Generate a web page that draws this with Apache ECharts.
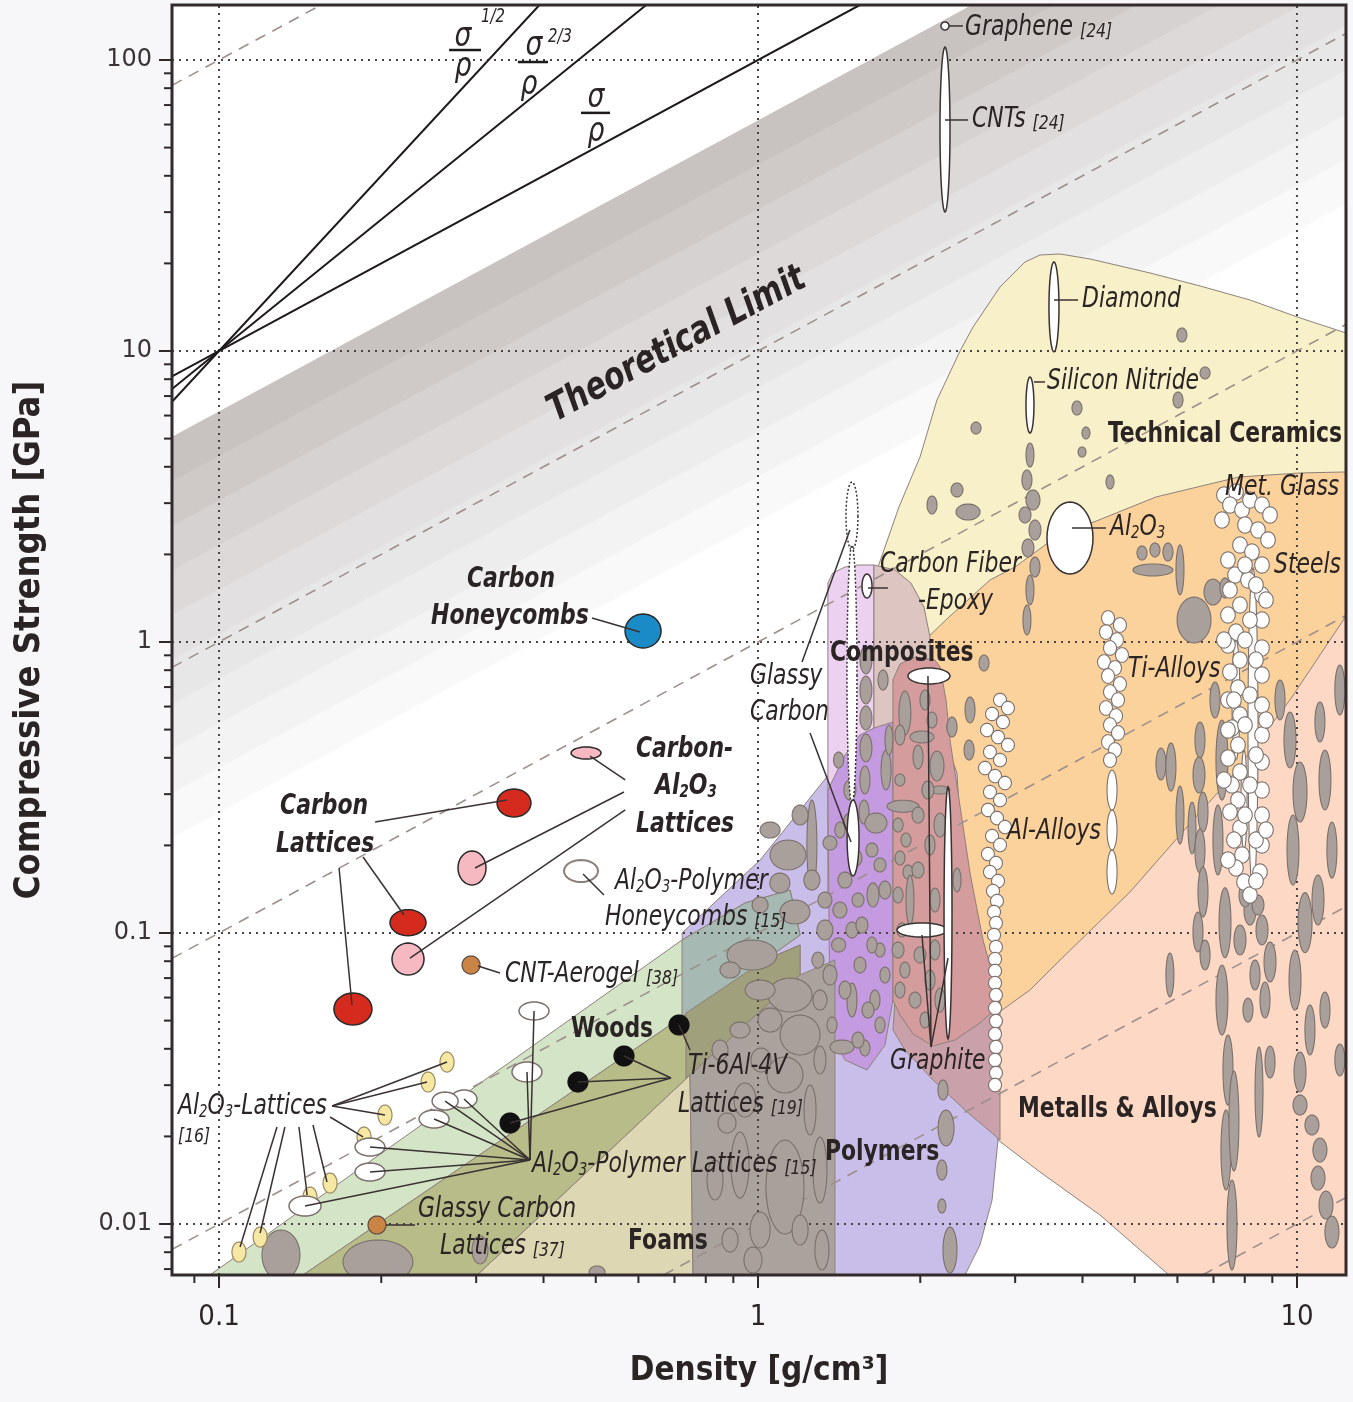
<!DOCTYPE html>
<html>
<head>
<meta charset="utf-8">
<title>Compressive strength vs density</title>
<script src="https://cdn.jsdelivr.net/npm/echarts@6.0.0/dist/echarts.min.js"></script>
<style>
  html, body { margin: 0; padding: 0; background: #f7f7fa; }
  #chart { width: 1353px; height: 1402px; }
</style>
</head>
<body>
<div id="chart"></div>
<script>
// axis ranges: density [g/cm3], compressive strength [GPa]
const densityRange = [0.0818, 12.33];
const strengthRange = [0.00668, 154.5];
const xTicks = [0.1, 1, 10];
const xTickLabels = ['0.1', '1', '10'];
const yTicks = [0.01, 0.1, 1, 10, 100];
const yTickLabels = ['0.01', '0.1', '1', '10', '100'];
const xMinorTicks = [0.09, 0.2, 0.3, 0.4, 0.5, 0.6, 0.7, 0.8, 0.9, 2, 3, 4, 5, 6, 7, 8, 9];
const yMinorTicks = [0.007, 0.008, 0.009, 0.02, 0.03, 0.04, 0.05, 0.06, 0.07, 0.08, 0.09,
  0.2, 0.3, 0.4, 0.5, 0.6, 0.7, 0.8, 0.9, 2, 3, 4, 5, 6, 7, 8, 9, 20, 30, 40, 50, 60, 70, 80, 90];

// theoretical limit band, upper / lower edge as sigma/rho
const theoryBand = [62, 2.6];
// dashed guide lines of constant sigma/rho
const ratioGuides = [1000, 10, 1, 0.1, 0.01, 0.001];
// solid index lines through (0.1, 10): sigma/rho, sigma^(2/3)/rho, sigma^(1/2)/rho
const indexAnchor = [0.1, 10];
const indexSlopes = [1, 1.5, 2];

// material envelopes [density, strength]
const ceramics = [[1.641,0.393],[1.641,1.016],[1.670,1.810],[1.826,2.910],[1.998,4.322],[2.148,6.785],[2.371,10],[2.506,12.09],[2.812,16.59],[3.129,20.22],[3.336,21.37],[3.634,21.54],[4.130,20.71],[5.337,18.54],[6.607,16.73],[8.181,14.97],[10.13,12.99],[12.33,11.53],[12.33,0.393]];
const metalsPeach = [[2.788,0.01944],[3.336,0.01509],[4.310,0.01074],[5.787,0.00668],[12.33,0.00668],[12.33,1.913],[2.788,0.632]];
const metalsOrange = [[2.041,0.6321],[2.041,1.016],[2.262,1.219],[2.694,1.633],[2.998,1.810],[3.512,2.242],[4.201,2.585],[5.475,3.150],[7.805,3.690],[10.13,3.809],[12.33,3.839],[12.33,1.228],[9.705,0.6321],[7.477,0.3356],[6.066,0.2172],[4.899,0.1383],[3.634,0.0807],[3.196,0.0637],[2.788,0.0531],[2.223,0.0531]];
const polymers = [[0.7228,0.1],[1.009,0.1781],[1.342,0.3436],[1.546,0.4791],[1.780,0.5311],[1.940,0.5395],[2.176,0.5145],[2.340,0.3547],[2.400,0.1608],[2.453,0.0807],[2.527,0.05884],[2.788,0.01944],[2.718,0.01209],[2.581,0.008468],[2.421,0.00668],[0.7478,0.00668],[0.7351,0.05884]];
const fiberComposites = [[1.348,0.1298],[1.348,1.595],[1.377,1.726],[1.450,1.810],[1.533,1.839],[1.641,1.839],[1.641,0.1298]];
const fiberOnCeramics = [[1.641,1.839],[1.796,1.768],[1.922,1.595],[2.032,1.319],[2.085,1.040],[2.085,0.4605],[1.641,0.4605]];
const polymersOnFiber = [[1.348,0.3100],[1.450,0.4090],[1.546,0.4791],[1.641,0.5063],[1.780,0.5311],[1.780,0.05884],[1.720,0.04121],[1.593,0.03382],[1.450,0.03661],[1.360,0.04642]];
const woods = [[0.0950,0.006573],[0.7228,0.09461],[0.946,0.1268],[1.147,0.1405],[1.197,0.09843],[1.030,0.0807],[0.7228,0.05143],[0.1413,0.006573]];
const foams = [[0.2985,0.006573],[0.7478,0.03251],[0.7576,0.006573]];
const woodsOnFoams = [[0.1413,0.006573],[0.7228,0.05143],[1.030,0.0807],[1.197,0.09095],[1.197,0.07173],[0.7478,0.03251],[0.2985,0.006573]];
const woodsOnPolymers = [[0.7228,0.09461],[0.946,0.1268],[1.147,0.1405],[1.197,0.09843],[1.030,0.0807],[0.7228,0.05143]];
const woodsFoamsPolymers = [[0.7351,0.0531],[1.030,0.0807],[1.197,0.09095],[1.197,0.07173],[0.7478,0.03251],[0.7351,0.03175]];
const foamsOnPolymers = [[0.7478,0.03251],[1.197,0.07173],[1.389,0.0807],[1.389,0.006573],[0.7576,0.006573]];
const polymersOnMetals = [[1.796,0.05884],[2.812,0.06368],[2.812,0.01944],[2.421,0.02464],[2.112,0.03125],[1.873,0.03962],[1.780,0.04642]];
const graphiteZone = [[1.780,0.05884],[1.780,0.7403],[1.834,0.8402],[1.956,0.8882],[2.130,0.8672],[2.176,0.8205],[2.233,0.6321],[2.271,0.4605],[2.371,0.2727],[2.474,0.1608],[2.615,0.09461],[2.776,0.06368],[2.812,0.05656],[2.581,0.04906],[2.320,0.04288],[2.112,0.04089],[1.940,0.04496],[1.834,0.05226]];

// bubbles: [density, strength, half-range of density (decades), half-range of strength (decades)]
const grayBubbles = [
  [6.116,11.35,.0093,.0241],[6.752,8.404,.0093,.0206],[6.016,6.785,.0093,.0275],[3.907,6.370,.0093,.0241],
  [2.538,5.437,.0093,.0206],[4.060,5.226,.0074,.0206],[3.992,4.497,.0074,.0172],[2.340,3.330,.0111,.0241],
  [2.103,2.957,.0093,.0309],[2.453,2.797,.0223,.0275],[4.499,3.546,.0074,.0241],[3.196,4.390,.0074,.0412],
  [3.155,3.604,.0093,.0344],[3.237,3.076,.0130,.0344],[3.129,2.732,.0111,.0275],[3.265,2.426,.0111,.0344],
  [3.169,2.104,.0111,.0309],[3.265,1.810,.0093,.0344],[3.196,1.509,.0074,.0515],[3.155,1.190,.0074,.0515],
  [5.405,1.768,.0371,.0206],[5.158,2.022,.0093,.0241],[5.452,2.072,.0093,.0241],[5.763,2.038,.0093,.0309],
  [6.066,1.768,.0074,.0859],[6.442,1.190,.0315,.0790],[6.985,1.485,.0167,.0447],[7.353,1.533,.0093,.0344],
  [2.474,0.5839,.0093,.0447],[2.280,0.5104,.0074,.0241],[2.626,0.8470,.0093,.0275],[2.464,0.4255,.0093,.0344],
  [1.586,0.8672,.0111,.0481],[1.586,0.6839,.0111,.0481],[1.586,0.5482,.0111,.0412],[1.586,0.4323,.0111,.0481],
  [1.579,0.3356,.0093,.0481],[1.573,0.2604,.0093,.0412],[1.873,0.5703,.0111,.0756],[2.015,0.4716,.0223,.0206],
  [1.981,0.4025,.0093,.0412],[2.148,0.3749,.0130,.0515],[2.176,0.3100,.0186,.0137],[1.858,0.2727,.0297,.0206],
  [1.834,0.3356,.0093,.0206],[1.819,0.2350,.0093,.0241],[1.882,0.2088,.0093,.0241],[1.834,0.1810,.0093,.0241],
  [1.898,0.1620,.0093,.0241],[1.914,0.1298,.0074,.0859],[1.819,0.1351,.0093,.0275],[1.850,0.1024,.0093,.0241],
  [1.819,0.08741,.0111,.0275],[1.873,0.07463,.0093,.0275],[1.834,0.06368,.0093,.0275],[1.137,0.1854,.0334,.0515],
  [1.259,0.2006,.0093,.1546],[1.360,0.2039,.0130,.0241],[1.655,0.2388,.0204,.0344],[1.627,0.1928,.0111,.0241],
  [1.684,0.1713,.0111,.0241],[1.634,0.1351,.0111,.0412],[1.450,0.1521,.0130,.0275],[1.533,0.1298,.0111,.0241],
  [1.419,0.1199,.0130,.0275],[1.494,0.1024,.0111,.0275],[1.411,0.09095,.0130,.0241],[1.331,0.1024,.0148,.0344],
  [0.9747,0.08404,.0464,.0515],[1.098,0.1485,.0186,.0344],[1.171,0.1181,.0278,.0412],[1.147,0.06121,.0408,.0584],
  [1.197,0.04462,.0371,.0687],[1.122,0.03251,.0334,.0619],[1.494,0.05884,.0093,.0584],[1.579,0.04025,.0093,.0275],
  [1.432,0.04057,.0223,.0241],[1.372,0.04829,.0093,.0275],[1.360,0.07173,.0130,.0344],[1.292,0.0807,.0111,.0275],
  [1.546,0.07763,.0111,.0275],[1.648,0.05884,.0093,.0344],[1.684,0.08741,.0093,.0241],[1.303,0.05884,.0130,.0344],
  [1.303,0.03661,.0111,.0481],[1.249,0.02464,.0111,.0859],[1.303,0.01533,.0130,.1134],[1.314,0.008143,.0130,.0687],
  [1.122,0.01340,.0353,.1615],[0.946,0.02668,.0204,.0584],[0.8760,0.02224,.0167,.0344],[0.9260,0.01594,.0167,.1134],
  [0.9788,0.007521,.0167,.0447],[2.233,0.02137,.0148,.0619],[2.194,0.01533,.0093,.0344],[2.194,0.01153,.0074,.0241],
  [2.271,0.008143,.0130,.0790],[2.204,0.02887,.0093,.0344],[1.013,0.03661,.0186,.0412],[1.053,0.05024,.0223,.0412],
  [1.009,0.06368,.0278,.0344],[0.9260,0.04642,.0186,.0275],[0.8502,0.03962,.0148,.0344],[0.8873,0.07463,.0186,.0275],
  [1.706,0.7403,.0093,.0344],[1.728,0.3633,.0093,.0687],[1.481,0.2426,.0111,.0275],[1.750,0.4605,.0074,.0515],
  [2.340,0.1521,.0074,.0412],[2.291,0.5104,.0093,.0344],[2.176,0.2350,.0111,.0412],
  [2.041,0.6321,.0093,.0344],[2.103,0.5395,.0093,.0275],[1.834,0.4791,.0093,.0344],[2.067,0.3100,.0111,.0309],
  [1.981,0.2543,.0111,.0275],[2.085,0.2006,.0093,.0344],[1.981,0.1646,.0111,.0275],[2.130,0.1298,.0093,.0412],
  [1.998,0.08404,.0111,.0275],[2.085,0.06891,.0093,.0344],[1.956,0.05884,.0111,.0275],[2.041,0.05024,.0093,.0275],
  [2.176,0.05884,.0093,.0412],[2.130,0.08741,.0093,.0344],
  [1.411,0.3930,.0093,.0275],[1.481,0.3100,.0111,.0344],[1.419,0.2259,.0093,.0275],[1.520,0.1810,.0111,.0275],
  [1.720,0.1405,.0111,.0309],[1.559,0.1065,.0111,.0275],[1.627,0.09095,.0093,.0275],[1.450,0.06368,.0111,.0309],
  [1.600,0.05435,.0111,.0275],[1.720,0.07173,.0093,.0275],[1.533,0.04288,.0111,.0275],[1.684,0.04829,.0093,.0275],
  [1.197,0.2543,.0148,.0344],[1.053,0.2259,.0186,.0275],[1.259,0.1521,.0148,.0344],[1.331,0.1298,.0130,.0275],
  [1.009,0.1248,.0148,.0275],
  [0.8322,0.01416,.0148,.0687],[1.009,0.009537,.0186,.0619],[1.197,0.009537,.0148,.0515],[0.8873,0.008810,.0148,.0412],
  [0.1303,0.007825,.0353,.0859],[0.1972,0.007403,.0649,.0756],[0.3050,0.008143,.0148,.0481],[0.5028,0.006842,.0148,.0206],
  [5.593,0.3808,.0093,.0550],[5.836,0.3719,.0093,.0825],[6.066,0.2543,.0074,.0997],[6.387,0.2295,.0074,.0893],
  [5.811,0.07173,.0074,.0756],[6.607,0.4605,.0093,.0619],[6.579,0.3491,.0111,.0619],[6.693,0.2604,.0093,.0687],
  [6.607,0.1913,.0093,.0756],[6.693,0.1383,.0093,.0859],[6.551,0.1008,.0093,.0687],[7.258,0.3930,.0111,.1375],
  [7.135,0.2088,.0093,.1203],[7.353,0.1085,.0111,.1203],[7.258,0.05884,.0111,.1203],[7.447,0.03382,.0093,.1203],
  [7.383,0.01796,.0093,.1375],[7.575,0.009922,.0093,.1546],[8.503,0.02842,.0074,.1546],[8.912,0.03602,.0093,.0550],
  [8.181,0.1199,.0111,.0515],[8.612,0.1024,.0111,.0515],[8.912,0.07950,.0111,.0687],[8.723,0.05884,.0093,.0619],
  [9.705,0.4605,.0111,.0962],[10.13,0.3051,.0130,.1031],[9.831,0.1928,.0111,.1203],[10.35,0.1085,.0130,.1031],
  [9.916,0.06891,.0111,.1031],[10.57,0.04642,.0093,.0859],[10.13,0.03330,.0111,.0687],[11.03,0.5311,.0093,.0687],
  [11.27,0.3356,.0111,.1031],[11.61,0.1928,.0093,.0962],[10.94,0.1298,.0111,.0859],[11.27,0.05435,.0093,.0619],
  [10.13,0.02564,.0130,.0344],[10.66,0.02189,.0130,.0344],[11.03,0.01796,.0130,.0412],[10.94,0.01439,.0130,.0412],
  [11.32,0.01162,.0130,.0481],[11.61,0.009387,.0130,.0550],[12.01,0.6839,.0093,.0859],[9.300,0.6321,.0093,.0687],
  [7.045,0.6321,.0093,.0619],[12.01,0.03661,.0093,.0550],[6.752,0.08404,.0093,.0515],[7.639,0.02259,.0093,.1718],
  [8.008,0.1351,.0111,.0412],[8.465,0.1248,.0111,.0344],[7.839,0.09461,.0111,.0515],[8.359,0.07173,.0093,.0515],
  [8.111,0.05435,.0093,.0412]
];

const alAlloys = [
  [2.812,0.6321],[2.909,0.5932],[2.718,0.5658],[2.848,0.5311],[2.660,0.4984],[2.788,0.4716],[2.909,0.4426],
  [2.694,0.4188],[2.812,0.3930],[2.637,0.3690],[2.753,0.3463],[2.872,0.3277],[2.694,0.3051],[2.812,0.2864],
  [2.671,0.2647],[2.776,0.2484],[2.872,0.2313],[2.718,0.2154],[2.812,0.2006],[2.671,0.1868],[2.764,0.1739],
  [2.694,0.1620],[2.788,0.1509],[2.729,0.1394],[2.776,0.1288],[2.741,0.1181],[2.764,0.1082],[2.741,0.09843],
  [2.764,0.08951],[2.753,0.08136],[2.753,0.07403],[2.753,0.06730],[2.764,0.06121],[2.753,0.05526],[2.764,0.04984],
  [2.753,0.04496],[2.764,0.04057],[2.753,0.03661],[2.764,0.03304],[2.753,0.03004]
];
const tiAlloys = [
  [4.461,1.209],[4.694,1.144],[4.422,1.082],[4.634,1.016],[4.499,0.9537],[4.735,0.9022],[4.385,0.8538],
  [4.596,0.8140],[4.461,0.7641],[4.694,0.7172],[4.499,0.6732],[4.655,0.6321],[4.422,0.5932],[4.616,0.5569],
  [4.499,0.5187],[4.655,0.4868],[4.461,0.4533],[4.596,0.4255],[4.499,0.3930]
];
const tiAlloysLong = [[4.538,0.3100,.0093,.0687],[4.538,0.2259,.0093,.0687],[4.538,0.1620,.0093,.0756]];
const steels = [
  [7.320,3.200],[7.706,3.277],[7.510,2.957],[7.907,2.842],[7.258,2.626],[8.181,3.076],[8.612,2.957],[8.912,2.732],
  [8.008,2.524],[8.465,2.426],[8.836,2.242],[7.839,2.154],[8.251,2.038],[7.447,1.913],[8.612,1.839],[7.674,1.699],
  [8.111,1.633],[7.510,1.509],[8.612,1.450],[7.839,1.340],[7.447,1.238],[8.612,1.190],[7.706,1.082],[7.447,0.9765],
  [8.612,0.9537],[7.839,0.8672],[7.510,0.7888],[8.612,0.7700],[7.772,0.6951],[7.447,0.6321],[8.612,0.6074],
  [7.839,0.5612],[7.575,0.5063],[8.612,0.4791],[7.772,0.4426],[7.447,0.3993],[8.612,0.3870],[7.839,0.3575],
  [7.575,0.3225],[8.612,0.3100],[7.772,0.2864],[7.510,0.2604],[8.612,0.2543],[7.839,0.2295],[7.639,0.2088],
  [8.612,0.2006],[7.907,0.1854],[7.706,0.1673],[8.539,0.1620],[7.975,0.1497],[8.181,0.1351],
  [8.008,1.839],[8.393,1.570],[8.181,1.190],[8.008,1.016],[8.393,0.8672],[8.181,0.6575],[8.008,0.5187],
  [8.393,0.4090],[8.181,0.3225],[8.008,0.2543],[8.393,0.2088],[7.639,0.6321],[7.447,0.4984],[8.760,0.5395],
  [8.760,0.2259],[8.760,1.394],[7.320,1.016],[7.320,0.3356],[7.447,0.1781],[8.393,0.1509]
];
const steelsLong = [[8.287,0.4984,.0093,.5567],[7.706,0.6321,.0074,.2062],[7.975,0.2864,.0056,.1718]];

// individual materials
const whiteMaterials = [
  [2.223,130.9,.0074,.0137],   // graphene
  [2.223,57.7,.0093,.2835],    // CNTs
  [3.541,14.17,.0093,.1546],   // diamond
  [3.196,6.52,.0074,.0962],    // silicon nitride
  [3.792,2.277,.0427,.1237],   // Al2O3
  [1.593,1.557,.0093,.0412],   // carbon fiber-epoxy
  [1.501,0.2121,.0111,.1306],  // glassy carbon
  [2.076,0.7641,.0390,.0275],  // graphite
  [2.015,0.1024,.0464,.0241],
  [2.252,0.1172,.0074,.4330]
];
const glassyCarbonRange = [[1.494,2.710,.0111,.1168],[1.494,0.770,.0093,.4467]];
const carbonHoneycombs = [[0.612,1.091,.0334,.0584]];
const carbonLattices = [[0.3526,0.2797,.0315,.0481],[0.2242,0.1085,.0334,.0447],[0.1772,0.0548,.0353,.0550]];
const carbonAl2O3Lattices = [[0.4797,0.4155,.0278,.0206],[0.2947,0.1673,.0260,.0584],[0.2242,0.08136,.0297,.0550]];
const cntAerogel = [[0.2935,0.07763,.0167,.0310]];
const glassyCarbonLattices = [[0.1964,0.009922,.0167,.0310]];
const al2o3PolymerHoneycombs = [[0.4695,0.1633,.0315,.0378]];
const tiLattices = [[0.7136,0.0483,.0186,.0344],[0.5641,0.03779,.0186,.0344],[0.4634,0.03076,.0186,.0344],[0.3467,0.02224,.0186,.0344]];
const al2o3PolymerLattices = [[0.3841,0.05395,.0278,.0309],[0.3727,0.03330,.0278,.0344],[0.2848,0.02689,.0241,.0309],
  [0.2627,0.02646,.0241,.0309],[0.2506,0.02295,.0278,.0309],[0.1906,0.01839,.0278,.0309],[0.1906,0.01509,.0278,.0309],[0.1444,0.01153,.0297,.0344]];
const al2o3Lattices = [[0.2649,0.03602,.013,.0344],[0.2443,0.03076,.013,.0344],[0.2032,0.02369,.013,.0344],[0.1858,0.01991,.013,.0344],
  [0.1607,0.01383,.013,.0344],[0.1475,0.01238,.013,.0344],[0.1192,0.009022,.013,.0344],[0.1089,0.008013,.013,.0344]];

// leader lines [rho1, sigma1, rho2, sigma2]
const leaders = [
  [2.262,130.9,2.400,130.9],[2.223,62.2,2.453,62.2],[3.541,14.97,3.925,14.97],[3.251,7.827,3.408,7.827],
  [3.825,2.465,4.422,2.465],[1.600,1.533,1.742,1.533],[1.207,0.8538,1.481,2.426],[1.249,0.4868,1.488,0.2054],
  [0.4920,1.209,0.6041,1.082],[0.1948,0.2406,0.3423,0.2864],[0.1850,0.1825,0.2204,0.1153],[0.1670,0.1673,0.1765,0.05656],
  [0.5670,0.3356,0.4879,0.4057],[0.5641,0.3051,0.2985,0.1673],[0.5670,0.2647,0.2261,0.08202],[0.4735,0.1595,0.5179,0.1351],
  [0.3023,0.07701,0.3321,0.07287],[0.7136,0.04829,0.7478,0.03962],[0.6897,0.03175,0.5641,0.03779],[0.6897,0.03175,0.4634,0.03076],
  [0.6897,0.03175,0.3467,0.02224],
  [0.3776,0.01660,0.3841,0.05395],[0.3776,0.01660,0.3727,0.03330],[0.3776,0.01660,0.2848,0.02689],[0.3776,0.01660,0.2627,0.02646],
  [0.3776,0.01660,0.2506,0.02295],[0.3776,0.01660,0.1906,0.01839],[0.3776,0.01660,0.1906,0.01509],[0.3776,0.01660,0.1444,0.01153],
  [0.1621,0.02544,0.2649,0.03602],[0.1621,0.02544,0.2432,0.03076],[0.1621,0.02544,0.2032,0.02369],[0.1607,0.02332,0.1850,0.01991],
  [0.1281,0.02154,0.1094,0.008337],[0.1325,0.02154,0.1192,0.009313],[0.1407,0.02154,0.1457,0.01258],[0.1494,0.02189,0.1586,0.01394],
  [0.2041,0.009922,0.2310,0.009922],
  [2.094,0.04057,2.067,0.7641],[2.094,0.04057,2.015,0.09843],[2.094,0.04057,2.252,0.08202]
];
const fractionBars = [[0.2672,108.2,0.3062,108.2],[0.3586,98.4,0.4077,98.4],[0.4695,65.8,0.5314,65.8]];

// annotations [text, rho, sigma, style, align]
const labels = [
  ['Graphene {r|[24]}', 2.421, 128.8, 'it'],
  ['CNTs {r|[24]}', 2.495, 62.2, 'it'],
  ['Diamond', 3.992, 14.97, 'it'],
  ['Silicon Nitride', 3.437, 7.827, 'it'],
  ['Technical Ceramics', 4.461, 5.145, 'b'],
  ['Met. Glass', 7.353, 3.382, 'it'],
  ['Al{s|2}O{s|3}', 4.499, 2.465, 'it'],
  ['Steels', 9.065, 1.825, 'it'],
  ['Carbon Fiber', 1.684, 1.839, 'it'],
  ['-Epoxy', 1.981, 1.372, 'it'],
  ['Composites', 1.360, 0.9095, 'b'],
  ['Glassy', 0.9664, 0.7584, 'it'],
  ['Carbon', 0.9664, 0.5703, 'it'],
  ['Ti-Alloys', 4.860, 0.8012, 'it'],
  ['Al-Alloys', 2.897, 0.2224, 'it'],
  ['Carbon-', 0.5937, 0.4255, 'bi'],
  ['Al{sb|2}O{sb|3}', 0.6441, 0.3175, 'bi'],
  ['Lattices', 0.5937, 0.2350, 'bi'],
  ['Carbon', 0.1298, 0.2710, 'bi'],
  ['Lattices', 0.1276, 0.2006, 'bi'],
  ['Carbon', 0.2884, 1.633, 'bi'],
  ['Honeycombs', 0.2474, 1.219, 'bi'],
  ['Al{s|2}O{s|3}-Polymer', 0.5429, 0.1497, 'it'],
  ['Honeycombs {r|[15]}', 0.5201, 0.1126, 'it'],
  ['CNT-Aerogel {r|[38]}', 0.3394, 0.07173, 'it'],
  ['Woods', 0.4498, 0.04642, 'b'],
  ['Ti-6Al-4V', 0.7417, 0.03463, 'it'],
  ['Lattices {r|[19]}', 0.7105, 0.02564, 'it'],
  ['Al{s|2}O{s|3}-Lattices', 0.08393, 0.02524, 'it'],
  ['[16]', 0.08393, 0.01991, 'ref'],
  ['Al{s|2}O{s|3}-Polymer Lattices {r|[15]}', 0.3808, 0.01594, 'it'],
  ['Glassy Carbon', 0.2340, 0.01117, 'it'],
  ['Lattices {r|[37]}', 0.2570, 0.008337, 'it'],
  ['Foams', 0.5741, 0.008673, 'b'],
  ['Polymers', 1.331, 0.01754, 'b'],
  ['Graphite', 1.758, 0.03602, 'it'],
  ['Metalls & Alloys', 3.036, 0.02464, 'b'],
  ['σ', 0.2836, 120.0, 'greek', 'center'],
  ['ρ', 0.2836, 94.6, 'greek', 'center'],
  ['1/2', 0.3062, 140.5, 'sup'],
  ['σ', 0.3841, 111.7, 'greek', 'center'],
  ['ρ', 0.3759, 82.1, 'greek', 'center'],
  ['2/3', 0.4077, 120.0, 'sup'],
  ['σ', 0.5004, 74.0, 'greek', 'center'],
  ['ρ', 0.5004, 56.6, 'greek', 'center']
];
const theoryLabel = ['Theoretical Limit', 0.7076, 10.49];

const NARROW = '"DejaVu Sans Condensed", "Liberation Sans", sans-serif';
const INK = '#2b2424';
const fonts = {
  it: 'italic 28px ' + NARROW,
  bi: 'italic bold 28px ' + NARROW,
  b: 'bold 28px ' + NARROW,
  ref: 'italic 20px ' + NARROW,
  greek: 'italic 34px ' + NARROW,
  sup: 'italic 19px ' + NARROW,
  big: 'italic bold 38px ' + NARROW
};
const squeeze = 0.87;
const richStyles = {
  s: { font: 'italic 17px ' + NARROW, lineHeight: 12, verticalAlign: 'bottom', fill: INK },
  sb: { font: 'italic bold 17px ' + NARROW, lineHeight: 12, verticalAlign: 'bottom', fill: INK },
  r: { font: 'italic 20px ' + NARROW, lineHeight: 16, verticalAlign: 'bottom', fill: INK }
};

const envelopes = [
  [ceramics, '#f8f0c8'], [metalsPeach, '#fdd9c5'], [metalsOrange, '#fbd19c'], [polymers, '#c9bee9'],
  [fiberComposites, '#ecd1f1'], [fiberOnCeramics, '#ddc5c1'], [polymersOnFiber, '#c49be0'],
  [woods, '#d4e5c7'], [foams, '#ded7b3'], [woodsOnFoams, '#b7bc88'], [woodsOnPolymers, '#a6b9b3'],
  [woodsFoamsPolymers, '#a0a07c'], [foamsOnPolymers, '#aaa29d'], [polymersOnMetals, '#caa1aa'],
  [graphiteZone, '#d49c9d']
];

function ellipse(api, d) {
  const c = api.coord([d[0], d[1]]);
  const e = api.coord([d[0] * Math.pow(10, d[2]), d[1] * Math.pow(10, d[3])]);
  const rx = Math.abs(e[0] - c[0]), ry = Math.abs(c[1] - e[1]);
  const pts = [];
  for (let i = 0; i < 40; i++) {
    const a = i / 40 * Math.PI * 2;
    pts.push([c[0] + rx * Math.cos(a), c[1] + ry * Math.sin(a)]);
  }
  return pts;
}

function bubbles(list, fill, stroke, z, opts) {
  opts = opts || {};
  const span = opts.span;
  return {
    type: 'custom', coordinateSystem: 'cartesian2d', clip: true, silent: true, z: z,
    encode: { x: 0, y: 1 },
    data: list.map(d => [d[0], d[1]]),
    renderItem: (params, api) => {
      const d = list[params.dataIndex];
      const full = d.length > 2 ? d : [d[0], d[1], span[0], span[1]];
      return {
        type: 'polygon', z2: params.dataIndex,
        shape: { points: ellipse(api, full) },
        style: { fill: fill, stroke: stroke, lineWidth: opts.lw || 1.1, lineDash: opts.dash || null }
      };
    }
  };
}

function single(z, clip, render) {
  return {
    type: 'custom', coordinateSystem: 'cartesian2d', clip: clip, silent: true, z: z,
    encode: { x: 0, y: 1 }, data: [[1, 1]], renderItem: render
  };
}

function seg(a, b, style) {
  return { type: 'line', shape: { x1: a[0], y1: a[1], x2: b[0], y2: b[1] }, style: style };
}

const [x0, x1] = densityRange;
const [y0, y1] = strengthRange;

const series = [
  // theoretical limit band
  single(1, true, (params, api) => {
    const [top, bot] = theoryBand;
    const poly = [[x0, top * x0], [y1 / top, y1], [x1, y1], [x1, bot * x1], [x0, bot * x0]].map(p => api.coord(p));
    const a = poly[0], b = poly[1], c = poly[4];
    const len = Math.hypot(b[0] - a[0], b[1] - a[1]);
    let nx = -(b[1] - a[1]) / len, ny = (b[0] - a[0]) / len;
    let dist = (c[0] - a[0]) * nx + (c[1] - a[1]) * ny;
    if (dist < 0) { nx = -nx; ny = -ny; dist = -dist; }
    const steps = ['#c8c2c0', '#cfcac8', '#d6d2d1', '#dcd9d8', '#e2e0e0', '#e8e7e7', '#eeeded', '#f3f3f3', '#f9f9f9'];
    const stops = [];
    steps.forEach((col, i) => {
      stops.push({ offset: i / steps.length, color: col });
      stops.push({ offset: (i + 1) / steps.length, color: col });
    });
    return {
      type: 'polygon', shape: { points: poly },
      style: { fill: new echarts.graphic.LinearGradient(a[0], a[1], a[0] + nx * dist, a[1] + ny * dist, stops, true) }
    };
  }),
  // material envelopes
  {
    type: 'custom', coordinateSystem: 'cartesian2d', clip: true, silent: true, z: 2,
    encode: { x: 0, y: 1 },
    data: envelopes.map(e => e[0][0]),
    renderItem: (params, api) => {
      const e = envelopes[params.dataIndex];
      return {
        type: 'polygon', z2: params.dataIndex,
        shape: { points: e[0].map(p => api.coord(p)) },
        style: { fill: e[1], stroke: '#8e817a', lineWidth: 1 }
      };
    }
  },
  // dotted decade grid, dashed sigma/rho guides, index lines
  single(3, true, (params, api) => {
    const children = [];
    const dot = { stroke: '#4a4343', lineWidth: 2, lineDash: [2, 5] };
    xTicks.forEach(v => children.push(seg(api.coord([v, y0]), api.coord([v, y1]), dot)));
    yTicks.forEach(v => children.push(seg(api.coord([x0, v]), api.coord([x1, v]), dot)));
    const dash = { stroke: '#9d8f8c', lineWidth: 1.6, lineDash: [11, 8] };
    ratioGuides.forEach(r => {
      const ra = Math.max(x0, y0 / r), rb = Math.min(x1, y1 / r);
      if (rb > ra) children.push(seg(api.coord([ra, r * ra]), api.coord([rb, r * rb]), dash));
    });
    const solid = { stroke: '#1e1a1a', lineWidth: 2 };
    indexSlopes.forEach(n => {
      const f = rho => indexAnchor[1] * Math.pow(rho / indexAnchor[0], n);
      const rb = indexAnchor[0] * Math.pow(y1 / indexAnchor[1], 1 / n);
      children.push(seg(api.coord([x0, f(x0)]), api.coord([rb, y1]), solid));
    });
    return { type: 'group', children: children };
  }),
  bubbles(grayBubbles, '#a9a09c', '#7b706b', 4),
  bubbles(alAlloys, '#ffffff', '#7b706b', 5, { span: [.0120, .0230] }),
  bubbles(tiAlloys, '#ffffff', '#7b706b', 5, { span: [.0120, .0250] }),
  bubbles(tiAlloysLong, '#ffffff', '#7b706b', 5),
  bubbles(steels, '#ffffff', '#7b706b', 5, { span: [.0135, .0280] }),
  bubbles(steelsLong, '#ffffff', '#7b706b', 5),
  bubbles(whiteMaterials, '#ffffff', '#3a3232', 6, { lw: 1.5 }),
  bubbles(glassyCarbonRange, '#ffffff', '#3a3232', 6, { lw: 1.5, dash: [2, 2] }),
  bubbles(carbonHoneycombs, '#1b8bc8', '#2a2a2a', 6, { lw: 1.5 }),
  bubbles(carbonLattices, '#d52b1e', '#2a2a2a', 6, { lw: 1.5 }),
  bubbles(carbonAl2O3Lattices, '#f7b9c1', '#2a2a2a', 6, { lw: 1.5 }),
  bubbles(cntAerogel, '#c98446', '#5a4a40', 6, { lw: 1.2 }),
  bubbles(glassyCarbonLattices, '#c98446', '#5a4a40', 6, { lw: 1.2 }),
  bubbles(al2o3PolymerHoneycombs, '#ffffff', '#8a7f7a', 6, { lw: 2 }),
  bubbles(al2o3Lattices, '#f6e8a2', '#9a8a62', 6, { lw: 1.2 }),
  bubbles(al2o3PolymerLattices, '#ffffff', '#7b706b', 6, { lw: 1.5 }),
  bubbles(tiLattices, '#111111', '#111111', 6),
  // leader lines and fraction bars
  single(7, false, (params, api) => ({
    type: 'group',
    children: leaders.map(l => seg(api.coord([l[0], l[1]]), api.coord([l[2], l[3]]), { stroke: '#3a3232', lineWidth: 1.5 }))
      .concat(fractionBars.map(l => seg(api.coord([l[0], l[1]]), api.coord([l[2], l[3]]), { stroke: '#1e1a1a', lineWidth: 2.5 })))
  })),
  // annotations
  single(8, false, (params, api) => {
    const children = labels.map(l => {
      const p = api.coord([l[1], l[2]]);
      return {
        type: 'text', x: p[0], y: p[1], scaleX: squeeze,
        style: { text: l[0], font: fonts[l[3]], fill: INK, align: l[4] || 'left', verticalAlign: 'middle', rich: richStyles }
      };
    });
    const pa = api.coord([0.3, 0.3 * theoryBand[0]]), pb = api.coord([1, theoryBand[0]]);
    const angle = Math.atan2(-(pb[1] - pa[1]), pb[0] - pa[0]);
    const pc = api.coord([theoryLabel[1], theoryLabel[2]]);
    children.push({
      type: 'text', x: pc[0], y: pc[1], rotation: angle, scaleX: 0.88,
      style: { text: theoryLabel[0], font: fonts.big, fill: INK, align: 'center', verticalAlign: 'middle' }
    });
    return { type: 'group', children: children };
  }),
  // axis ticks and frame
  single(9, false, (params, api) => {
    const children = [];
    const tick = { stroke: '#2f2828', lineWidth: 2 };
    xTicks.forEach(v => { const p = api.coord([v, y0]); children.push(seg(p, [p[0], p[1] + 13], tick)); });
    xMinorTicks.forEach(v => { const p = api.coord([v, y0]); children.push(seg(p, [p[0], p[1] + 8], tick)); });
    yTicks.forEach(v => { const p = api.coord([x0, v]); children.push(seg(p, [p[0] - 13, p[1]], tick)); });
    yMinorTicks.forEach(v => { const p = api.coord([x0, v]); children.push(seg(p, [p[0] - 8, p[1]], tick)); });
    const bl = api.coord([x0, y0]), tr = api.coord([x1, y1]);
    children.push({
      type: 'rect', shape: { x: bl[0], y: tr[1], width: tr[0] - bl[0], height: bl[1] - tr[1] },
      style: { fill: null, stroke: '#332b2b', lineWidth: 3 }
    });
    return { type: 'group', children: children };
  })
];

function decadeLabel(ticks, names) {
  return v => {
    for (let i = 0; i < ticks.length; i++) {
      if (Math.abs(Math.log10(v) - Math.log10(ticks[i])) < 1e-6) return names[i];
    }
    return '';
  };
}

const chart = echarts.init(document.getElementById('chart'));
chart.setOption({
  animation: false,
  backgroundColor: '#f7f7fa',
  grid: {
    left: 172, right: 7, top: 5, bottom: 127, containLabel: false, outerBoundsMode: 'none',
    show: true, backgroundColor: '#ffffff', borderWidth: 0
  },
  xAxis: {
    type: 'log', logBase: 10, min: x0, max: x1,
    name: 'Density [g/cm³]', nameLocation: 'middle', nameGap: 80,
    nameTextStyle: { fontFamily: NARROW, fontWeight: 'bold', fontSize: 33, color: INK },
    axisLine: { show: false }, axisTick: { show: false }, splitLine: { show: false },
    axisLabel: {
      formatter: decadeLabel(xTicks, xTickLabels), margin: 28, showMinLabel: false, showMaxLabel: false,
      fontFamily: NARROW, fontSize: 29, color: '#2b2424'
    }
  },
  yAxis: {
    type: 'log', logBase: 10, min: y0, max: y1,
    name: 'Compressive Strength [GPa]', nameLocation: 'middle', nameGap: 124,
    nameTextStyle: { fontFamily: NARROW, fontWeight: 'bold', fontSize: 36, color: INK },
    axisLine: { show: false }, axisTick: { show: false }, splitLine: { show: false },
    axisLabel: {
      formatter: decadeLabel(yTicks, yTickLabels), margin: 20, showMinLabel: false, showMaxLabel: false,
      fontFamily: '"DejaVu Sans", sans-serif', fontSize: 24, color: '#3a3434'
    }
  },
  series: series
});
</script>
</body>
</html>
